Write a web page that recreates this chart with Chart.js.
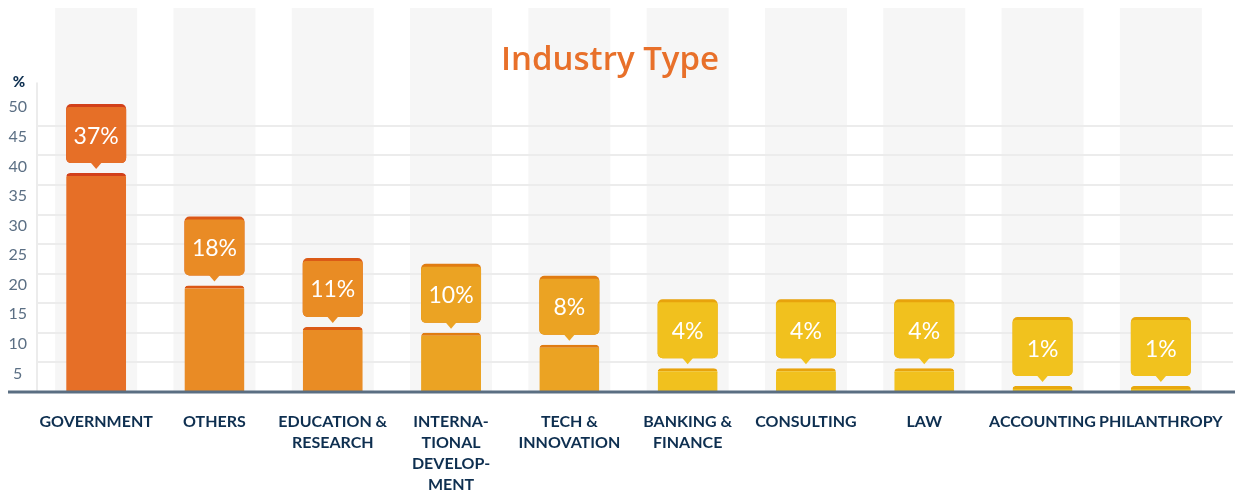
<!DOCTYPE html>
<html>
<head>
<meta charset="utf-8">
<script src="https://cdn.jsdelivr.net/npm/chart.js@4.4.1/dist/chart.umd.min.js"></script>
<style>
  html, body { margin: 0; padding: 0; background: #fff; }
  #wrap { width: 1235px; height: 496px; position: relative; }
</style>
</head>
<body>
<div id="wrap"><canvas id="chart"></canvas></div>
<script>
'use strict';

// Industry type share (%).
const categories = [
  ['GOVERNMENT'],
  ['OTHERS'],
  ['EDUCATION &', 'RESEARCH'],
  ['INTERNA-', 'TIONAL', 'DEVELOP-', 'MENT'],
  ['TECH &', 'INNOVATION'],
  ['BANKING &', 'FINANCE'],
  ['CONSULTING'],
  ['LAW'],
  ['ACCOUNTING'],
  ['PHILANTHROPY'],
];
const shares = [37, 18, 11, 10, 8, 4, 4, 4, 1, 1];
const yTicks = [5, 10, 15, 20, 25, 30, 35, 40, 45, 50];

const barColors = ['#e66f27', '#e98b25', '#e98c24', '#eba323', '#eba323',
                   '#f1c11e', '#f1c11e', '#f1c11e', '#f1c21e', '#f1c21e'];
const capColors = ['#d2401a', '#db5716', '#db5a16', '#e07c12', '#e07c12',
                   '#e8a30c', '#e8a30c', '#e8a30c', '#e8a80e', '#e8a80e'];

const NAVY = '#0e2f50';

// Grey column bands, gridlines, axis line and the value callouts.
const decor = {
  id: 'decor',
  beforeDraw(chart) {
    const { ctx, chartArea: a, scales: { x, y } } = chart;
    const step = x.getPixelForValue(1) - x.getPixelForValue(0);
    const band = step * 0.693;
    ctx.save();
    ctx.fillStyle = '#f6f6f6';
    categories.forEach((_, i) => {
      const cx = x.getPixelForValue(i);
      ctx.fillRect(cx - band / 2, 8, band, a.bottom - 8);
    });
    ctx.strokeStyle = '#ececec';
    ctx.lineWidth = 2;
    yTicks.slice(0, -1).forEach(v => {
      const py = Math.round(y.getPixelForValue(v));
      ctx.beginPath();
      ctx.moveTo(a.left, py);
      ctx.lineTo(chart.width - 2, py);
      ctx.stroke();
    });
    ctx.beginPath();
    ctx.moveTo(a.left, a.top);
    ctx.lineTo(a.left, a.bottom);
    ctx.stroke();

    ctx.fillStyle = NAVY;
    ctx.font = '900 15px Lato';
    ctx.textAlign = 'center';
    ctx.textBaseline = 'middle';
    ctx.fillText('%', 19, 82);
    ctx.restore();
  },
  afterDatasetsDraw(chart) {
    const { ctx, chartArea: a } = chart;
    ctx.save();
    ctx.strokeStyle = '#5a6e82';
    ctx.lineWidth = 3;
    ctx.beginPath();
    ctx.moveTo(8, a.bottom);
    ctx.lineTo(chart.width, a.bottom);
    ctx.stroke();

    const bars = chart.getDatasetMeta(0).data;
    bars.forEach((bar, i) => {
      const w = bar.width, bx = bar.x - w / 2;
      const tipY = bar.y - 4, boxBottom = tipY - 6, h = 59, boxTop = boxBottom - h;
      ctx.fillStyle = capColors[i];
      ctx.beginPath();
      ctx.roundRect(bx, boxTop, w, h, 5);
      ctx.fill();
      ctx.fillStyle = barColors[i];
      ctx.beginPath();
      ctx.roundRect(bx, boxTop + 3, w, h - 3, [3, 3, 5, 5]);
      ctx.fill();
      ctx.beginPath();
      ctx.moveTo(bar.x - 6, boxBottom - 1);
      ctx.lineTo(bar.x + 6, boxBottom - 1);
      ctx.lineTo(bar.x, tipY);
      ctx.closePath();
      ctx.fill();
      ctx.fillStyle = '#fff';
      ctx.font = '400 23px Lato';
      ctx.textAlign = 'center';
      ctx.textBaseline = 'middle';
      ctx.fillText(shares[i] + '%', bar.x, (boxTop + 3 + boxBottom) / 2 + 1);
    });
    ctx.restore();
  },
};

new Chart(document.getElementById('chart'), {
  type: 'bar',
  data: {
    labels: categories,
    datasets: [{
      data: shares,
      backgroundColor: barColors,
      borderColor: capColors,
      borderWidth: { top: 3, left: 0, right: 0, bottom: 0 },
      borderRadius: { topLeft: 4, topRight: 4 },
      borderSkipped: false,
      barPercentage: 0.507,
      categoryPercentage: 1,
    }],
  },
  options: {
    responsive: true,
    maintainAspectRatio: false,
    animation: false,
    layout: { padding: { right: 15 } },
    plugins: {
      legend: { display: false },
      tooltip: { enabled: false },
      title: {
        display: true,
        text: 'Industry Type',
        color: '#e8702a',
        font: { family: 'Open Sans', size: 33, weight: '600' },
        padding: { top: 41, bottom: 2 },
      },
    },
    scales: {
      x: {
        grid: { display: false, drawTicks: false },
        border: { display: false },
        ticks: {
          autoSkip: false, maxRotation: 0, padding: 19,
          color: NAVY,
          font: { family: 'Lato', size: 16, weight: '700', lineHeight: 1.32 },
        },
        afterFit(scale) {
          scale.height = 104;
          scale.paddingLeft = 0;
          scale.paddingRight = 0;
        },
      },
      y: {
        min: 0, max: 52.3,
        grid: { display: false, drawTicks: false },
        border: { display: false },
        afterBuildTicks(scale) { scale.ticks = yTicks.map(v => ({ value: v })); },
        ticks: {
          crossAlign: 'center', padding: 10, labelOffset: 11,
          color: '#5b6f84',
          font: { family: 'Lato', size: 16 },
        },
        afterFit(scale) { scale.width = 37; },
      },
    },
  },
  plugins: [decor],
});
</script>
</body>
</html>
